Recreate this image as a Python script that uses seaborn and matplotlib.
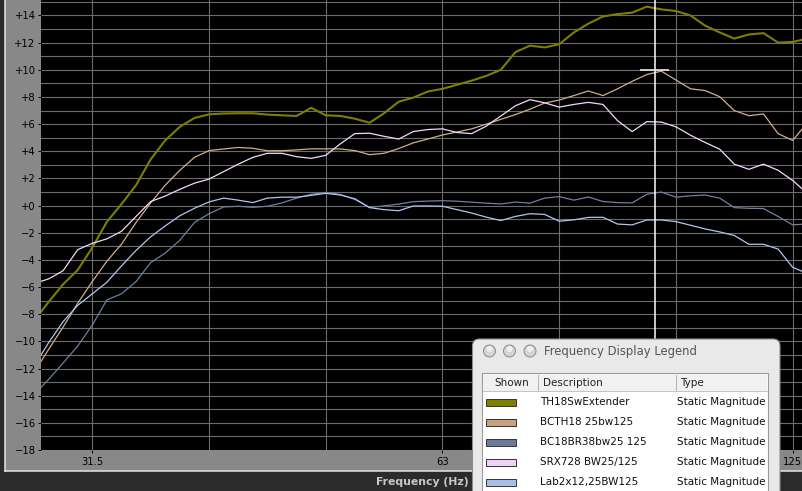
import numpy as np
import pandas as pd
import matplotlib
matplotlib.use("Agg")
import matplotlib.pyplot as plt
import seaborn as sns
from matplotlib.patches import Rectangle, FancyBboxPatch, Circle
from matplotlib.lines import Line2D
from matplotlib.ticker import FixedLocator, FixedFormatter, NullFormatter

# Data (1/24 octave points)
freq_hz = [28.06, 28.89, 29.73, 30.60, 31.50, 32.42, 33.37, 34.35, 35.36, 36.39,
           37.46, 38.56, 39.69, 40.85, 42.05, 43.28, 44.55, 45.85, 47.20, 48.58,
           50.00, 51.47, 52.97, 54.53, 56.12, 57.77, 59.46, 61.20, 63.00, 64.85,
           66.74, 68.70, 70.71, 72.78, 74.91, 77.11, 79.37, 81.70, 84.09, 86.55,
           89.09, 91.70, 94.39, 97.15, 100.00, 102.93, 105.95, 109.05, 112.25, 115.54,
           118.92, 122.41, 126.00, 129.69]

th18_db = [-8.5, -7.1, -5.8, -4.75, -3.1, -1.2, 0.1, 1.5, 3.4, 4.8,
           5.8, 6.45, 6.72, 6.78, 6.8, 6.8, 6.7, 6.65, 6.6, 7.2,
           6.65, 6.6, 6.4, 6.1, 6.8, 7.65, 7.95, 8.4, 8.6, 8.9,
           9.2, 9.55, 10.0, 11.3, 11.78, 11.65, 11.88, 12.75, 13.4, 13.93,
           14.1, 14.21, 14.65, 14.45, 14.33, 14.0, 13.25, 12.75, 12.3, 12.6,
           12.7, 12.0, 12.05, 12.3]
bcth18_db = [-12.3, -10.6, -8.95, -7.2, -5.6, -4.1, -2.85, -1.25, 0.2, 1.5,
             2.6, 3.55, 4.05, 4.17, 4.28, 4.22, 4.04, 4.04, 4.1, 4.18,
             4.18, 4.17, 4.05, 3.75, 3.85, 4.2, 4.62, 4.9, 5.2, 5.42,
             5.65, 6.0, 6.35, 6.7, 7.1, 7.55, 7.77, 8.1, 8.44, 8.1,
             8.6, 9.15, 9.65, 9.9, 9.25, 8.6, 8.47, 8.02, 7.0, 6.62,
             6.75, 5.3, 4.8, 6.1]
bc18br_db = [-13.95, -12.8, -11.6, -10.35, -8.8, -6.95, -6.5, -5.6, -4.2, -3.5,
             -2.55, -1.25, -0.6, -0.1, -0.05, -0.13, -0.05, 0.2, 0.55, 0.83,
             0.97, 0.82, 0.45, -0.13, -0.02, 0.11, 0.29, 0.33, 0.36, 0.32,
             0.25, 0.18, 0.12, 0.26, 0.18, 0.55, 0.66, 0.4, 0.63, 0.3,
             0.22, 0.2, 0.83, 1.0, 0.62, 0.72, 0.78, 0.55, -0.15, -0.2,
             -0.22, -0.8, -1.42, -1.35]
srx728_db = [-5.75, -5.4, -4.8, -3.25, -2.78, -2.45, -1.9, -0.8, 0.3, 0.7,
             1.2, 1.65, 1.95, 2.5, 3.05, 3.55, 3.85, 3.85, 3.6, 3.48,
             3.7, 4.55, 5.3, 5.33, 5.1, 4.9, 5.45, 5.6, 5.65, 5.38,
             5.3, 5.85, 6.6, 7.35, 7.8, 7.57, 7.25, 7.45, 7.6, 7.45,
             6.25, 5.45, 6.18, 6.15, 5.8, 5.18, 4.65, 4.15, 3.05, 2.67,
             3.05, 2.6, 1.85, 0.9]
lab2x12_db = [-11.85, -10.1, -8.55, -7.35, -6.5, -5.65, -4.45, -3.3, -2.3, -1.5,
              -0.75, -0.2, 0.27, 0.55, 0.4, 0.22, 0.55, 0.62, 0.62, 0.75,
              0.9, 0.78, 0.5, -0.15, -0.3, -0.38, -0.03, -0.03, -0.05, -0.3,
              -0.55, -0.85, -1.1, -0.8, -0.6, -0.65, -1.15, -1.05, -0.87, -0.86,
              -1.36, -1.42, -1.06, -1.06, -1.18, -1.45, -1.72, -1.94, -2.2, -2.85,
              -2.85, -3.2, -4.55, -5.0]

series_names = ["TH18SwExtender", "BCTH18 25bw125", "BC18BR38bw25 125",
                "SRX728 BW25/125", "Lab2x12,25BW125"]
series_values = [th18_db, bcth18_db, bc18br_db, srx728_db, lab2x12_db]
series_type = "Static Magnitude"
line_colors = ["#7d7f00", "#d2ae88", "#6f7fa0", "#f4d8fc", "#aec6f0"]
swatch_colors = ["#7f8000", "#c8a27f", "#6a7b99", "#f0d0f8", "#a8c0e8"]

y_ticks = list(range(-18, 15, 2))
x_ticks = [31.5, 63, 126]
x_tick_labels = ["31.5", "63", "125"]
x_third_octaves = [39.7, 50, 79.4, 100]
cursor_hz = 95.9
cursor_db = 9.95

W, H = 802, 491


def P(x, y):
    # pixel (top-left origin) -> inches for dpi_scale_trans
    return x / 100, (H - y) / 100


df = pd.DataFrame({
    "freq": np.tile(freq_hz, len(series_names)),
    "db": np.concatenate(series_values),
    "name": np.repeat(series_names, len(freq_hz)),
})

fig = plt.figure(figsize=(W / 100, H / 100), dpi=100, facecolor="#2b2b2b")
tr = fig.dpi_scale_trans

# grey frame + white bevel
fig.add_artist(Rectangle(P(5, 470.5), 8.0, 4.8, transform=tr, fc="#888888", ec="none", zorder=-10))
fig.add_artist(Line2D([5.0 / 100, 5.0 / 100], [(H - 471) / 100, H / 100], transform=tr,
                      color="#e6e6e6", lw=1.1, zorder=-9))
fig.add_artist(Line2D([5.0 / 100, 8.1], [(H - 470.8) / 100] * 2, transform=tr,
                      color="#e6e6e6", lw=1.1, zorder=-9))

ax = fig.add_axes([41 / W, 1 - 450 / H, (W - 41) / W, 450 / H])
ax.set_facecolor("black")

for name, col in zip(series_names, line_colors):
    lw = 1.5 if name == "TH18SwExtender" else 0.9
    sns.lineplot(data=df[df["name"] == name], x="freq", y="db", color=col, lw=lw,
                 ax=ax, legend=False, estimator=None, sort=False)

# cursor
ax.axvline(cursor_hz, color="white", lw=1.1)
ax.hlines(cursor_db, cursor_hz * 2 ** (-1 / 24), cursor_hz * 2 ** (1 / 24), color="#e8e8e8", lw=1.2)

ax.set_xscale("log")
ax.set_xlim(28.46, 128.34)
ax.set_ylim(-18, 15.14)
ax.xaxis.set_major_locator(FixedLocator(x_ticks))
ax.xaxis.set_major_formatter(FixedFormatter(x_tick_labels))
ax.xaxis.set_minor_locator(FixedLocator(x_third_octaves))
ax.xaxis.set_minor_formatter(NullFormatter())
ax.set_yticks(y_ticks, labels=[f"{v:+d}".replace("-", "\u2212") if v else "+0" for v in y_ticks])
ax.set_yticks(list(range(-18, 16)), minor=True)
ax.grid(True, which="both", color="#6c6c6c", lw=0.8)
ax.set_axisbelow(True)
ax.tick_params(which="minor", length=0)
ax.tick_params(which="major", length=2.3, width=0.7, color="black", labelsize=7.2, pad=1.6,
               labelcolor="black")
ax.tick_params(axis="x", which="major", pad=2.4)
ax.set_xlabel("")
ax.set_ylabel("")
for s in ax.spines.values():
    s.set_visible(False)

fig.text(*P(422, 482), "Frequency (Hz)", transform=tr, ha="center", va="center",
         color="#c8c8c8", fontsize=7.8, fontweight="bold")

# legend window
Z = 20
fig.add_artist(FancyBboxPatch(P(472.5, 530), 3.075, 1.91, transform=tr,
                              boxstyle="round,pad=0,rounding_size=0.07",
                              fc="#e9e9e9", ec="#8e8e8e", lw=0.8, zorder=Z))
for cx in [489.5, 509.5, 530]:
    fig.add_artist(Circle(P(cx, 351), 0.06, transform=tr, fc="#d4d4d4", ec="#8a8a8a",
                          lw=0.7, zorder=Z + 1))
    fig.add_artist(Circle(P(cx, 349), 0.03, transform=tr, fc="#efefef", ec="none",
                          zorder=Z + 2))
fig.text(*P(544, 351), "Frequency Display Legend", transform=tr, ha="left", va="center",
         color="#555555", fontsize=8.4, zorder=Z + 2)

fig.add_artist(Rectangle(P(482, 500), 2.86, 1.27, transform=tr, fc="white", ec="#9c9c9c",
                         lw=0.8, zorder=Z + 1))
fig.add_artist(Rectangle(P(483, 391), 2.84, 0.17, transform=tr, fc="#f1f1f1", ec="none",
                         zorder=Z + 2))
fig.add_artist(Line2D([4.83, 7.67], [(H - 391) / 100] * 2, transform=tr, color="#c4c4c4",
                      lw=0.7, zorder=Z + 3))
for sx in [538, 676]:
    fig.add_artist(Line2D([sx / 100] * 2, [(H - 390) / 100, (H - 375) / 100], transform=tr,
                          color="#b4b4b4", lw=0.7, zorder=Z + 3))
for hx, label in zip([494, 543, 680], ["Shown", "Description", "Type"]):
    fig.text(*P(hx, 383), label, transform=tr, ha="left", va="center", color="#222222",
             fontsize=7.5, zorder=Z + 3)

for i, (name, sw) in enumerate(zip(series_names, swatch_colors)):
    ry = 402 + 20 * i
    fig.add_artist(Rectangle(P(486, ry + 3.5), 0.30, 0.07, transform=tr, fc=sw, ec="#333333",
                             lw=0.7, zorder=Z + 3))
    fig.text(*P(540, ry), name, transform=tr, ha="left", va="center", color="#111111",
             fontsize=7.5, zorder=Z + 3)
    fig.text(*P(677, ry), series_type, transform=tr, ha="left", va="center", color="#111111",
             fontsize=7.5, zorder=Z + 3)

fig.savefig("out.png", dpi=100, facecolor=fig.get_facecolor())
